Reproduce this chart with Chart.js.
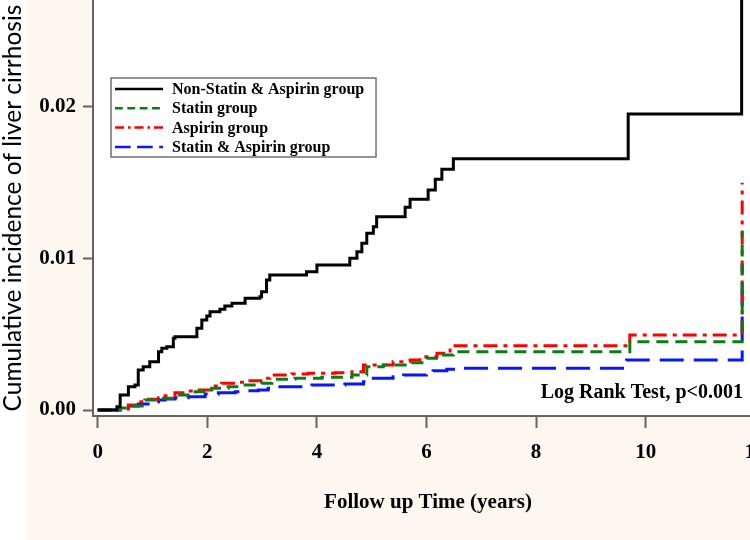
<!DOCTYPE html>
<html>
<head>
<meta charset="utf-8">
<script src="https://cdn.jsdelivr.net/npm/chart.js"></script>
<style>
  html, body { margin: 0; padding: 0; background: #fff; overflow: hidden; }
  #kmChart { display: block; }
</style>
</head>
<body>
<canvas id="kmChart" width="763" height="540"></canvas>
<script>
// step times (years) and cumulative incidence right after each step
const groupLabels = ['Non-Statin & Aspirin group', 'Statin group', 'Aspirin group', 'Statin & Aspirin group'];

const noneTimes = [0, 0.35, 0.41, 0.56, 0.68, 0.74, 0.83, 0.95, 1.11, 1.17, 1.26, 1.38, 1.41, 1.81, 1.90, 1.99, 2.05, 2.23, 2.32, 2.45,
  2.69, 2.96, 2.99, 3.08, 3.14, 3.81, 4.00, 4.60, 4.73, 4.82, 4.91, 5.03, 5.09, 5.61, 5.70, 6.03, 6.16, 6.28, 6.49, 9.68, 11.75];
const noneValues = [0, 0.00022, 0.00099, 0.00154, 0.00165, 0.00264, 0.00286, 0.00319, 0.00385, 0.00407, 0.00418, 0.00473, 0.00484, 0.00539, 0.00594, 0.0062, 0.00649, 0.00665, 0.00686, 0.00704,
  0.00737, 0.00748, 0.00781, 0.00858, 0.00891, 0.00913, 0.00957, 0.01001, 0.01045, 0.011, 0.01166, 0.0121, 0.01276, 0.01338, 0.01391, 0.01452, 0.01523, 0.01589, 0.01658, 0.01954, 0.035];

const statinTimes = [0, 0.41, 0.56, 0.86, 1.17, 1.41, 1.78, 2.08, 2.38, 2.69, 2.99, 3.18, 3.60, 4.09, 4.64, 4.91, 5.21, 5.64, 6.00, 6.25, 6.49, 9.71, 11.76];
const statinValues = [0, 0.00013, 0.00026, 0.00066, 0.00077, 0.00099, 0.00121, 0.00143, 0.00154, 0.00165, 0.00176, 0.00203, 0.00209, 0.00216, 0.00231, 0.00286, 0.00297, 0.00312, 0.00341, 0.00363, 0.00385, 0.00451, 0.0118];

const aspirinTimes = [0, 0.32, 0.56, 0.74, 0.89, 1.11, 1.23, 1.41, 1.59, 1.78, 2.08, 2.26, 2.51, 2.75, 3.02, 3.14, 3.54, 3.84, 4.33, 4.64,
  4.85, 5.39, 5.70, 5.88, 6.19, 6.43, 6.49, 9.71, 11.76];
const aspirinValues = [0, 0.00007, 0.00033, 0.00055, 0.00071, 0.00081, 0.00094, 0.00114, 0.00125, 0.00132, 0.00158, 0.00176, 0.00183, 0.00193, 0.00209, 0.00231, 0.00238, 0.00242, 0.00246, 0.00253,
  0.00297, 0.00319, 0.0033, 0.00352, 0.00374, 0.00418, 0.00424, 0.00495, 0.0150];

const bothTimes = [0, 0.41, 0.56, 0.74, 0.92, 1.11, 1.23, 1.41, 1.65, 1.96, 2.20, 2.51, 2.75, 2.93, 3.11, 3.27, 3.91, 4.51, 4.85, 5.03,
  5.39, 5.58, 6.00, 6.12, 6.37, 6.55, 9.65, 11.76];
const bothValues = [0, 0.00018, 0.00026, 0.0004, 0.00055, 0.00066, 0.00073, 0.00081, 0.00088, 0.00106, 0.00114, 0.00121, 0.00127, 0.00132, 0.00143, 0.00154, 0.00165, 0.00172, 0.00187, 0.00209,
  0.0022, 0.00231, 0.00246, 0.00259, 0.00269, 0.00275, 0.0033, 0.0096];

const xTickValues = [0, 2, 4, 6, 8, 10, 12];
const yTickValues = [0, 0.01, 0.02];
const testNote = 'Log Rank Test, p<0.001';

const axisColor = '#6b6358';
const panelColor = '#fcf8ef';
const serifBold = { family: '"Liberation Serif", "Times New Roman", serif', weight: 'bold' };

function toPoints(times, values) {
  return times.map((t, i) => ({ x: t, y: values[i] }));
}

function makeSet(label, times, values, color, dash) {
  return {
    label: label,
    data: toPoints(times, values),
    borderColor: color,
    backgroundColor: color,
    borderWidth: 3,
    borderDash: dash,
    borderCapStyle: 'butt',
    stepped: true,
    pointRadius: 0,
    fill: false
  };
}

// beige panel behind the axes, white plot area
const backdrop = {
  id: 'backdrop',
  beforeDraw(chart) {
    const { ctx, chartArea, width, height } = chart;
    ctx.save();
    ctx.fillStyle = '#ffffff';
    ctx.fillRect(0, 0, width, height);
    ctx.fillStyle = panelColor;
    ctx.fillRect(27, 0, width - 27, height);
    ctx.fillStyle = '#ffffff';
    ctx.fillRect(chartArea.left, chartArea.top, chartArea.right - chartArea.left, chartArea.bottom - chartArea.top);
    ctx.restore();
  }
};

// boxed legend in the upper left plus the test note
const boxLegend = {
  id: 'boxLegend',
  afterDraw(chart) {
    const { ctx } = chart;
    ctx.save();
    ctx.fillStyle = '#ffffff';
    ctx.fillRect(111, 78, 265, 79);
    ctx.strokeStyle = '#707070';
    ctx.lineWidth = 1.5;
    ctx.strokeRect(111, 78, 265, 79);
    ctx.font = 'bold 16px "Liberation Serif", "Times New Roman", serif';
    ctx.textBaseline = 'middle';
    chart.data.datasets.forEach((ds, i) => {
      const y = 89 + i * 19.3;
      ctx.strokeStyle = ds.borderColor;
      ctx.lineWidth = 2.5;
      ctx.setLineDash((ds.borderDash || []).map(d => d * 0.65));
      ctx.beginPath();
      ctx.moveTo(115, y);
      ctx.lineTo(163, y);
      ctx.stroke();
      ctx.setLineDash([]);
      ctx.fillStyle = '#000';
      ctx.fillText(ds.label, 172, y + 1);
    });
    ctx.font = 'bold 20px "Liberation Serif", "Times New Roman", serif';
    ctx.textAlign = 'right';
    ctx.fillText(testNote, 743, 393);
    ctx.restore();
  }
};

new Chart(document.getElementById('kmChart'), {
  type: 'line',
  data: {
    datasets: [
      makeSet(groupLabels[0], noneTimes, noneValues, '#000000', []),
      makeSet(groupLabels[1], statinTimes, statinValues, '#0b7d12', [12, 7]),
      makeSet(groupLabels[2], aspirinTimes, aspirinValues, '#ff0000', [14, 6, 4, 6]),
      makeSet(groupLabels[3], bothTimes, bothValues, '#0a14ff', [24, 10])
    ]
  },
  options: {
    responsive: false,
    animation: false,
    layout: { padding: 0, autoPadding: false },
    plugins: {
      legend: { display: false },
      tooltip: { enabled: false }
    },
    scales: {
      x: {
        type: 'linear',
        min: -0.0858,
        max: 12.14,
        afterFit(scale) {
          scale.height = 124;
          scale.paddingLeft = 0;
          scale.paddingRight = 0;
        },
        afterBuildTicks(scale) { scale.ticks = xTickValues.map(v => ({ value: v })); },
        grid: { drawOnChartArea: false, drawTicks: true, tickLength: 12, tickColor: axisColor, tickWidth: 2 },
        border: { color: axisColor, width: 2 },
        ticks: { color: '#000', font: { ...serifBold, size: 21 }, padding: 12, maxRotation: 0 },
        title: {
          display: true,
          text: 'Follow up Time (years)',
          color: '#000',
          font: { ...serifBold, size: 21 },
          padding: { top: 0, bottom: 25 }
        }
      },
      y: {
        type: 'linear',
        min: -0.000396,
        max: 0.02706,
        afterFit(scale) {
          scale.width = 93;
          scale.paddingTop = 0;
          scale.paddingBottom = 0;
        },
        afterBuildTicks(scale) { scale.ticks = yTickValues.map(v => ({ value: v })); },
        grid: { drawOnChartArea: false, drawTicks: true, tickLength: 10, tickColor: axisColor, tickWidth: 2 },
        border: { color: axisColor, width: 2 },
        ticks: { color: '#000', font: { ...serifBold, size: 21 }, padding: 7, callback: v => v.toFixed(2) },
        title: {
          display: true,
          text: 'Cumulative incidence of liver cirrhosis',
          color: '#000',
          font: { family: 'Lato, "Open Sans", sans-serif', size: 24.5 },
          padding: { top: -2, bottom: 0 }
        }
      }
    }
  },
  plugins: [backdrop, boxLegend]
});
</script>
</body>
</html>
